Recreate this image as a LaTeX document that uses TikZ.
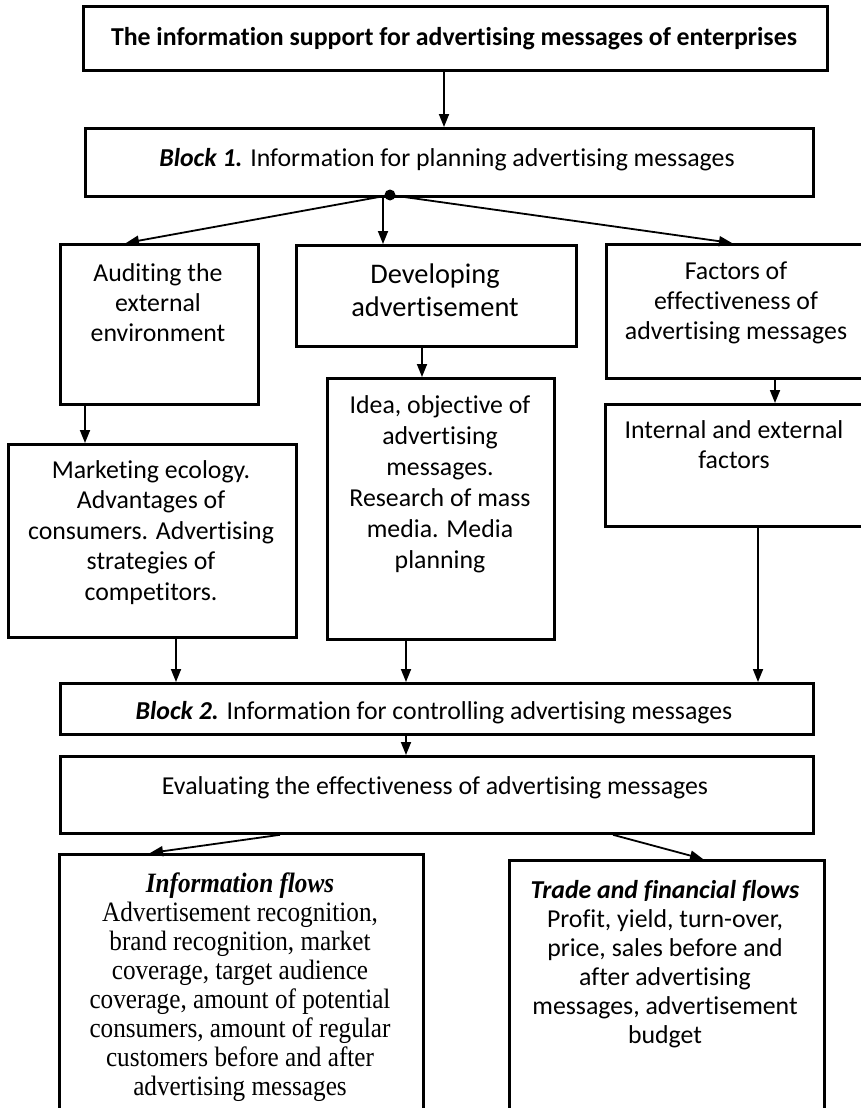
\documentclass[tikz,border=0pt]{standalone}
\usepackage{fontspec}
\setmainfont{Carlito}[Ligatures=NoCommon]
\newfontfamily\tnr[FakeStretch=0.9]{Liberation Serif}
\usetikzlibrary{arrows.meta}
\begin{document}
\begin{tikzpicture}[x=1pt,y=-1pt,
  bx/.style={draw, line width=2.8pt, inner sep=0, anchor=north west},
  lbl/.style={inner sep=0, align=center, font=\fontsize{25.8}{30}\selectfont},
  arr/.style={line width=1.8pt, -{Triangle[length=13pt,width=10pt]}},
]
\useasboundingbox (0,0) rectangle (860,1108);
\fill[white] (0,0) rectangle (860,1108);

% boxes
\node[bx, minimum width=744pt, minimum height=64pt] (top) at (82,5) {};
\node[bx, minimum width=728pt, minimum height=68pt] (b1) at (84,127) {};
\node[bx, minimum width=198pt, minimum height=160pt] (aud) at (59,243) {};
\node[bx, minimum width=280pt, minimum height=101pt] (dev) at (295,244) {};
\node[bx, minimum width=262pt, minimum height=134pt] (fac) at (605,243) {};
\node[bx, minimum width=263pt, minimum height=122pt] (int) at (604,403) {};
\node[bx, minimum width=288pt, minimum height=193pt] (mkt) at (7,443) {};
\node[bx, minimum width=227pt, minimum height=261pt] (idea) at (326,377) {};
\node[bx, minimum width=753pt, minimum height=51pt] (b2) at (59,682) {};
\node[bx, minimum width=753pt, minimum height=77pt] (eval) at (59,755) {};
\node[bx, minimum width=364pt, minimum height=270pt] (info) at (58,853) {};
\node[bx, minimum width=315pt, minimum height=265pt] (trade) at (508,859) {};
\node[circle, fill, inner sep=0, minimum size=11pt] (dot) at (390,195) {};

% texts
\node[lbl, anchor=base, font=\fontsize{25.8}{30}\selectfont\bfseries] (t-top) at (454,46)
  {The information support for advertising messages of enterprises};
\node[lbl, anchor=base] (t-b1) at (447,166)
  {\textbf{\textit{Block 1.}} Information for planning advertising messages};
\node[lbl, anchor=north] (t-aud) at (158,263) {Auditing the\\external\\environment};
\node[lbl, anchor=north, font=\fontsize{28.4}{33}\selectfont] (t-dev) at (435,264) {Developing\\advertisement};
\node[lbl, anchor=north] (t-fac) at (736,262) {Factors of\\effectiveness of\\advertising messages};
\node[lbl, anchor=north] (t-int) at (734,420) {Internal and external\\factors};
\node[lbl, anchor=north, font=\fontsize{25.8}{30.5}\selectfont] (t-mkt) at (151,460)
  {Marketing ecology.\\Advantages of\\consumers. Advertising\\strategies of\\competitors.};
\node[lbl, anchor=north, font=\fontsize{25.8}{31}\selectfont] (t-idea) at (440,395)
  {Idea, objective of\\advertising\\messages.\\Research of mass\\media. Media\\planning};
\node[lbl, anchor=base] (t-b2) at (434,719)
  {\textbf{\textit{Block 2.}} Information for controlling advertising messages};
\node[lbl, anchor=base] (t-eval) at (435,794)
  {Evaluating the effectiveness of advertising messages};
\node[lbl, anchor=north, font=\tnr\fontsize{28}{29}\selectfont] (t-info) at (240,873)
  {\textbf{\textit{Information flows}}\\Advertisement recognition,\\brand recognition, market\\coverage, target audience\\coverage, amount of potential\\consumers, amount of regular\\customers before and after\\advertising messages};
\node[lbl, anchor=north, font=\fontsize{25.8}{29}\selectfont] (t-trade) at (665,880)
  {\textbf{\textit{Trade and financial flows}}\\Profit, yield, turn-over,\\price, sales before and\\after advertising\\messages, advertisement\\budget};

% x positions of connectors
\coordinate (x1) at (444,0);
\coordinate (xa) at (126,0);
\coordinate (xm) at (383,0);
\coordinate (xf) at (732,0);
\coordinate (xd) at (422,0);
\coordinate (xau) at (85,0);
\coordinate (xfi) at (775,0);
\coordinate (xmk) at (176,0);
\coordinate (xid) at (406,0);
\coordinate (xin) at (758,0);
\coordinate (xe1) at (280,0);
\coordinate (xe2) at (150,0);
\coordinate (xe3) at (613,0);
\coordinate (xe4) at (703,0);

% connectors
\draw[arr] (top.south -| x1) -- (b1.north -| x1);
\draw[arr] (dot) -- (aud.north -| xa);
\draw[arr] (dot -| xm) -- (dev.north -| xm);
\draw[arr] (dot) -- (fac.north -| xf);
\draw[arr] (dev.south -| xd) -- (idea.north -| xd);
\draw[arr] (aud.south -| xau) -- (mkt.north -| xau);
\draw[arr] (fac.south -| xfi) -- (int.north -| xfi);
\draw[arr] (mkt.south -| xmk) -- (b2.north -| xmk);
\draw[arr] (idea.south -| xid) -- (b2.north -| xid);
\draw[arr] (int.south -| xin) -- (b2.north -| xin);
\draw[arr] (b2.south -| xid) -- (eval.north -| xid);
\draw[arr] (eval.south -| xe1) -- (info.north -| xe2);
\draw[arr] (eval.south -| xe3) -- (trade.north -| xe4);
\end{tikzpicture}
\end{document}
